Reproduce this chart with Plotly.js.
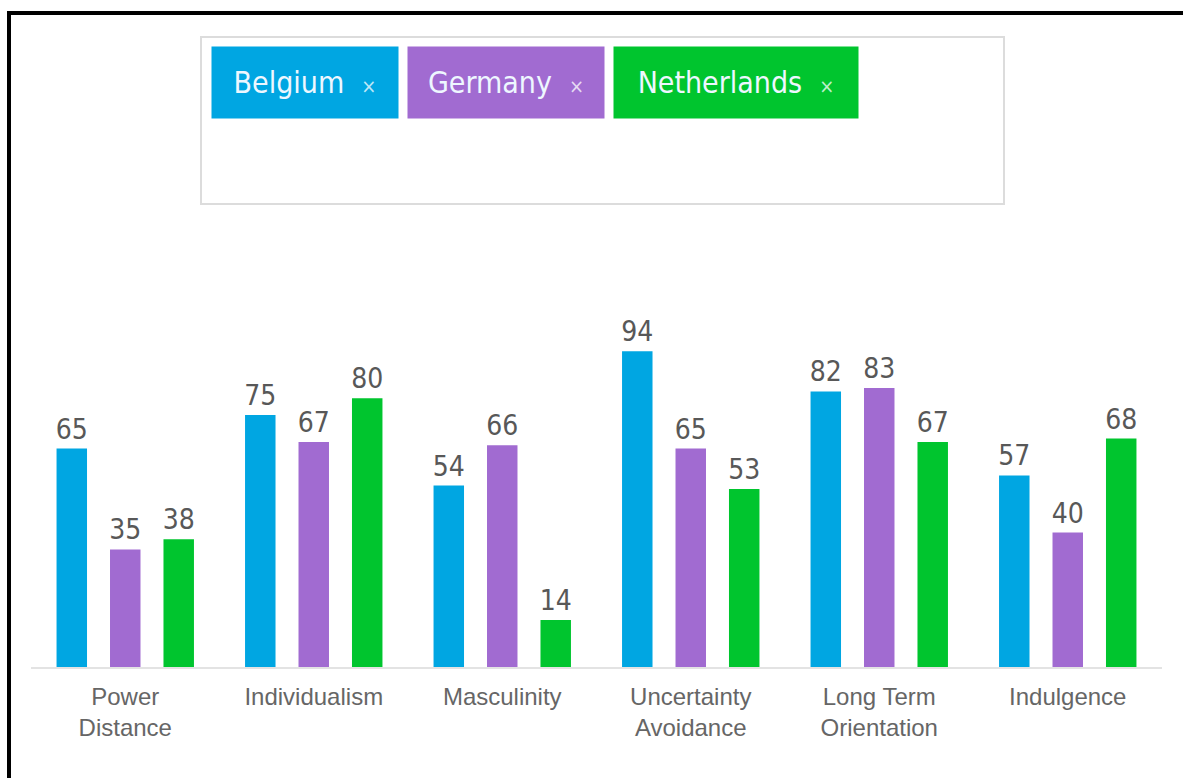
<!DOCTYPE html>
<html>
<head>
<meta charset="utf-8">
<script src="https://cdn.plot.ly/plotly-3.0.1.min.js"></script>
<style>
  html, body { margin: 0; padding: 0; background: #fff; }
  #wrap { position: relative; width: 1183px; height: 778px; overflow: hidden; }
  #chart { position: absolute; left: 0; top: 0; width: 1183px; height: 778px; }
  #frame { position: absolute; left: 7px; top: 11px; width: 1200px; height: 800px;
           border-top: 4px solid #000; border-left: 4px solid #000; pointer-events: none; }
</style>
</head>
<body>
<div id="wrap">
  <div id="chart"></div>
  <div id="frame"></div>
</div>
<script>
// ---- data ----
const categories = ["Power<br>Distance", "Individualism", "Masculinity", "Uncertainty<br>Avoidance", "Long Term<br>Orientation", "Indulgence"];
const countries = ["Belgium", "Germany", "Netherlands"];
const belgium = [65, 75, 54, 94, 82, 57];
const germany = [35, 67, 66, 65, 83, 40];
const netherlands = [38, 80, 14, 53, 67, 68];
const seriesValues = [belgium, germany, netherlands];
const colors = ["#00a6e2", "#a16bd1", "#00c52e"];

// ---- layout geometry ----
const W = 1183, H = 778;
const M = { l: 31, r: 21, t: 331, b: 111 };
const plotW = W - M.l - M.r, plotH = H - M.t - M.b;
const px2x = px => (px - M.l) / plotW;
const py2y = py => (H - M.b - py) / plotH;

const valueFont = { family: "Liberation Sans Narrow, DejaVu Sans Condensed, Roboto, sans-serif", size: 28, color: "#585858" };

const traces = countries.map((name, i) => ({
  type: "bar",
  name: name,
  x: categories,
  y: seriesValues[i],
  marker: { color: colors[i] },
  text: seriesValues[i].map(String),
  textposition: "outside",
  textfont: valueFont,
  constraintext: "none",
  cliponaxis: false,
  hoverinfo: "x+y+name"
}));

// chip (tag) boxes
const chipBoxes = [[212, 398], [408, 604], [614, 858]];
const chipTop = 47, chipBottom = 118;
const annotations = countries.map((name, i) => {
  const [x0, x1] = chipBoxes[i];
  return {
    xref: "paper", yref: "paper",
    x: px2x((x0 + x1) / 2), y: py2y((chipTop + chipBottom) / 2),
    xanchor: "center", yanchor: "middle",
    showarrow: false,
    width: x1 - x0, height: chipBottom - chipTop,
    borderpad: 0, bgcolor: colors[i],
    text: name + "  <span style='font-size:20px;color:rgba(255,255,255,0.75)'>×</span>",
    font: { family: "Liberation Sans Narrow, DejaVu Sans Condensed, Roboto, sans-serif", size: 30, color: "#eef7ff" },
    align: "center", valign: "middle"
  };
});

const shapes = [{
  type: "rect", xref: "paper", yref: "paper",
  x0: px2x(201), x1: px2x(1004), y0: py2y(204), y1: py2y(37),
  line: { color: "#dcdcdc", width: 2 }, fillcolor: "rgba(0,0,0,0)", layer: "below"
}];

const layout = {
  width: W, height: H,
  margin: M,
  paper_bgcolor: "#ffffff", plot_bgcolor: "#ffffff",
  showlegend: false,
  barmode: "group",
  bargap: 0.149,
  bargroupgap: 0.43,
  xaxis: {
    type: "category",
    showline: true, linecolor: "#e3e3e3", linewidth: 2,
    showgrid: false, zeroline: false, ticks: "",
    tickfont: { family: "Liberation Sans, Arial, sans-serif", size: 24, color: "#666666" },
    ticklabelstandoff: 7,
    fixedrange: true
  },
  yaxis: {
    range: [0, 100], visible: false, showgrid: false, zeroline: false, fixedrange: true
  },
  annotations: annotations,
  shapes: shapes
};

Plotly.newPlot("chart", traces, layout, { displayModeBar: false, staticPlot: false });
</script>
</body>
</html>
